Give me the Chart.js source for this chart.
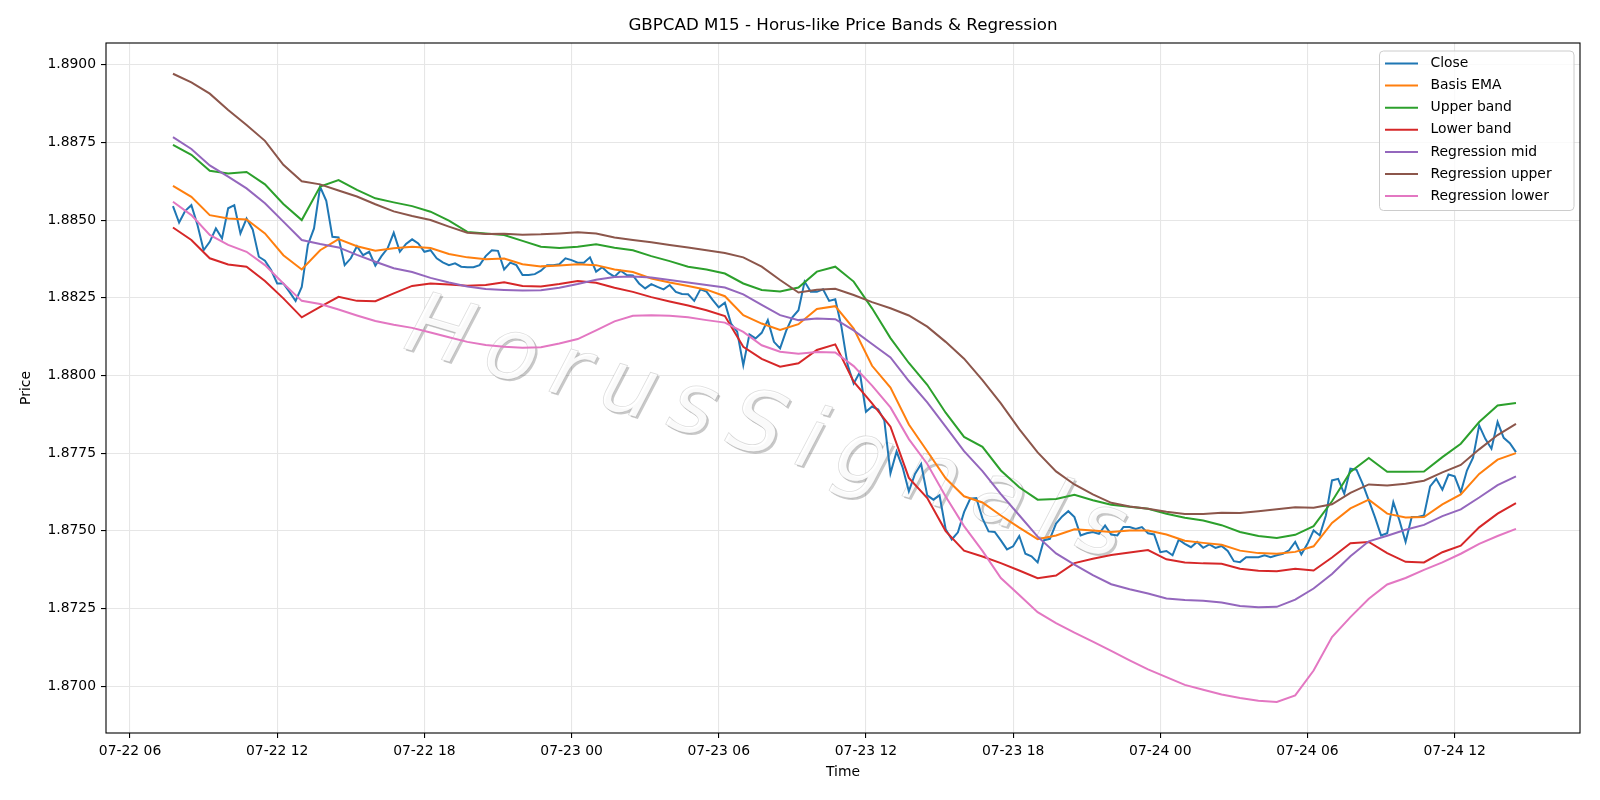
<!DOCTYPE html>
<html>
<head>
<meta charset="utf-8">
<title>GBPCAD M15 - Horus-like Price Bands & Regression</title>
<script src="https://cdn.jsdelivr.net/npm/chart.js"></script>
<style>
  html, body { margin: 0; padding: 0; background: #fff; }
  #wrap { width: 1600px; height: 800px; }
</style>
</head>
<body>
<div id="wrap"><canvas id="chart" width="1600" height="800"></canvas></div>
<script>
// time is counted in hours from 07-22 00:00
const closeStart = 7.75;   // 07-22 07:45, one bar every 15 min
const closeStep = 0.25;
const bandStart = 7.75;    // bands read every 45 min
const bandStep = 0.75;

const tickHours = [6, 12, 18, 24, 30, 36, 42, 48, 54, 60];
const tickLabels = ['07-22 06', '07-22 12', '07-22 18', '07-23 00', '07-23 06',
                    '07-23 12', '07-23 18', '07-24 00', '07-24 06', '07-24 12'];
const priceTicks = [1.8700, 1.8725, 1.8750, 1.8775, 1.8800, 1.8825, 1.8850, 1.8875, 1.8900];

const closeValues = [
  1.88545, 1.88492, 1.88530, 1.88548, 1.88484, 1.88403, 1.88430, 1.88473, 1.88441, 1.88538,
  1.88548, 1.88457, 1.88505, 1.88470, 1.88382, 1.88369, 1.88339, 1.88296, 1.88296, 1.88269,
  1.88240, 1.88285, 1.88420, 1.88473, 1.88607, 1.88562, 1.88446, 1.88444, 1.88355, 1.88377,
  1.88416, 1.88387, 1.88398, 1.88353, 1.88384, 1.88409, 1.88459, 1.88398, 1.88423, 1.88438,
  1.88425, 1.88398, 1.88403, 1.88377, 1.88364, 1.88355, 1.88361, 1.88350, 1.88348, 1.88348,
  1.88355, 1.88384, 1.88403, 1.88401, 1.88341, 1.88363, 1.88355, 1.88323, 1.88323, 1.88326,
  1.88337, 1.88355, 1.88355, 1.88358, 1.88377, 1.88371, 1.88363, 1.88363, 1.88380, 1.88334,
  1.88348, 1.88330, 1.88318, 1.88337, 1.88323, 1.88322, 1.88296, 1.88280, 1.88294, 1.88285,
  1.88277, 1.88291, 1.88269, 1.88262, 1.88261, 1.88240, 1.88277, 1.88270, 1.88243, 1.88219,
  1.88234, 1.88167, 1.88141, 1.88033, 1.88132, 1.88119, 1.88137, 1.88178, 1.88108, 1.88087,
  1.88144, 1.88187, 1.88210, 1.88302, 1.88269, 1.88269, 1.88277, 1.88240, 1.88245, 1.88157,
  1.88035, 1.87974, 1.88010, 1.87883, 1.87900, 1.87890, 1.87855, 1.87685, 1.87755, 1.87703,
  1.87627, 1.87683, 1.87715, 1.87614, 1.87600, 1.87614, 1.87505, 1.87472, 1.87495, 1.87560,
  1.87603, 1.87605, 1.87540, 1.87498, 1.87496, 1.87469, 1.87440, 1.87450, 1.87483, 1.87426,
  1.87418, 1.87398, 1.87469, 1.87474, 1.87523, 1.87546, 1.87563, 1.87544, 1.87485, 1.87492,
  1.87496, 1.87490, 1.87517, 1.87488, 1.87485, 1.87512, 1.87512, 1.87506, 1.87512, 1.87492,
  1.87488, 1.87431, 1.87435, 1.87421, 1.87471, 1.87458, 1.87447, 1.87464, 1.87445, 1.87456,
  1.87445, 1.87451, 1.87435, 1.87402, 1.87399, 1.87415, 1.87415, 1.87415, 1.87421, 1.87415,
  1.87421, 1.87426, 1.87437, 1.87464, 1.87424, 1.87458, 1.87501, 1.87485, 1.87549, 1.87662,
  1.87667, 1.87619, 1.87700, 1.87696, 1.87651, 1.87598, 1.87544, 1.87485, 1.87492, 1.87592,
  1.87533, 1.87464, 1.87544, 1.87544, 1.87549, 1.87643, 1.87667, 1.87632, 1.87681, 1.87675,
  1.87624, 1.87694, 1.87735, 1.87839, 1.87796, 1.87764, 1.87850, 1.87799, 1.87782, 1.87753
];

const basisEma = [
  1.88610, 1.88575, 1.88516, 1.88505, 1.88502, 1.88457, 1.88387, 1.88341, 1.88403, 1.88439,
  1.88416, 1.88401, 1.88409, 1.88414, 1.88410, 1.88391, 1.88380, 1.88374, 1.88376, 1.88358,
  1.88351, 1.88354, 1.88358, 1.88355, 1.88341, 1.88333, 1.88312, 1.88299, 1.88288, 1.88276,
  1.88255, 1.88194, 1.88167, 1.88146, 1.88165, 1.88214, 1.88223, 1.88151, 1.88031, 1.87961,
  1.87842, 1.87756, 1.87669, 1.87611, 1.87591, 1.87549, 1.87510, 1.87473, 1.87485, 1.87505,
  1.87501, 1.87496, 1.87501, 1.87501, 1.87488, 1.87468, 1.87461, 1.87455, 1.87436, 1.87428,
  1.87426, 1.87432, 1.87450, 1.87525, 1.87572, 1.87600, 1.87555, 1.87543, 1.87544, 1.87585,
  1.87617, 1.87683, 1.87729, 1.87750
];

const upperBand = [
  1.88742, 1.88710, 1.88659, 1.88650, 1.88655, 1.88615, 1.88552, 1.88500, 1.88608, 1.88629,
  1.88597, 1.88570, 1.88557, 1.88545, 1.88527, 1.88498, 1.88462, 1.88457, 1.88452, 1.88433,
  1.88414, 1.88410, 1.88414, 1.88422, 1.88411, 1.88403, 1.88384, 1.88368, 1.88350, 1.88341,
  1.88328, 1.88296, 1.88275, 1.88270, 1.88283, 1.88334, 1.88350, 1.88302, 1.88216, 1.88120,
  1.88040, 1.87970, 1.87880, 1.87802, 1.87770, 1.87694, 1.87640, 1.87600, 1.87602, 1.87616,
  1.87598, 1.87584, 1.87577, 1.87571, 1.87555, 1.87542, 1.87533, 1.87518, 1.87496, 1.87483,
  1.87477, 1.87487, 1.87515, 1.87595, 1.87689, 1.87734, 1.87690, 1.87690, 1.87691, 1.87737,
  1.87780, 1.87850, 1.87903, 1.87911
];

const lowerBand = [
  1.88476, 1.88436, 1.88377, 1.88357, 1.88350, 1.88304, 1.88248, 1.88187, 1.88221, 1.88253,
  1.88240, 1.88239, 1.88264, 1.88288, 1.88296, 1.88293, 1.88289, 1.88291, 1.88300, 1.88288,
  1.88286, 1.88294, 1.88304, 1.88298, 1.88282, 1.88269, 1.88252, 1.88238, 1.88225, 1.88210,
  1.88191, 1.88092, 1.88053, 1.88028, 1.88039, 1.88082, 1.88100, 1.87980, 1.87910, 1.87835,
  1.87670, 1.87605, 1.87499, 1.87436, 1.87417, 1.87396, 1.87372, 1.87347, 1.87356, 1.87396,
  1.87410, 1.87422, 1.87430, 1.87438, 1.87408, 1.87398, 1.87395, 1.87394, 1.87378, 1.87371,
  1.87370, 1.87378, 1.87372, 1.87414, 1.87460, 1.87464, 1.87428, 1.87400, 1.87398, 1.87431,
  1.87452, 1.87511, 1.87555, 1.87589
];

const regMid = [
  1.88767, 1.88729, 1.88676, 1.88640, 1.88602, 1.88554, 1.88495, 1.88436, 1.88423, 1.88412,
  1.88388, 1.88366, 1.88345, 1.88333, 1.88314, 1.88299, 1.88286, 1.88278, 1.88275, 1.88273,
  1.88274, 1.88282, 1.88294, 1.88308, 1.88317, 1.88318, 1.88315, 1.88307, 1.88299, 1.88291,
  1.88283, 1.88261, 1.88227, 1.88194, 1.88178, 1.88183, 1.88181, 1.88145, 1.88101, 1.88058,
  1.87982, 1.87913, 1.87835, 1.87756, 1.87692, 1.87618, 1.87550, 1.87481, 1.87427, 1.87391,
  1.87357, 1.87328, 1.87312, 1.87298, 1.87282, 1.87277, 1.87275, 1.87269, 1.87258, 1.87254,
  1.87255, 1.87278, 1.87314, 1.87361, 1.87418, 1.87466, 1.87484, 1.87503, 1.87519, 1.87547,
  1.87569, 1.87607, 1.87647, 1.87675
];

const regUpper = [
  1.88971, 1.88943, 1.88907, 1.88854, 1.88806, 1.88755, 1.88678, 1.88625, 1.88615, 1.88595,
  1.88576, 1.88551, 1.88528, 1.88513, 1.88500, 1.88479, 1.88459, 1.88455, 1.88456, 1.88453,
  1.88454, 1.88457, 1.88461, 1.88457, 1.88444, 1.88436, 1.88429, 1.88420, 1.88412, 1.88403,
  1.88394, 1.88380, 1.88350, 1.88307, 1.88267, 1.88276, 1.88279, 1.88259, 1.88236, 1.88216,
  1.88193, 1.88157, 1.88108, 1.88054, 1.87985, 1.87910, 1.87827, 1.87752, 1.87691, 1.87649,
  1.87617, 1.87590, 1.87578, 1.87571, 1.87561, 1.87554, 1.87554, 1.87558, 1.87557, 1.87563,
  1.87569, 1.87576, 1.87574, 1.87585, 1.87622, 1.87649, 1.87646, 1.87651, 1.87661, 1.87688,
  1.87712, 1.87762, 1.87808, 1.87844
];

const regLower = [
  1.88559, 1.88516, 1.88452, 1.88420, 1.88398, 1.88355, 1.88296, 1.88240, 1.88230, 1.88212,
  1.88193, 1.88175, 1.88163, 1.88153, 1.88138, 1.88123, 1.88108, 1.88098, 1.88092, 1.88089,
  1.88091, 1.88103, 1.88117, 1.88145, 1.88174, 1.88192, 1.88194, 1.88192, 1.88187, 1.88178,
  1.88170, 1.88140, 1.88097, 1.88076, 1.88070, 1.88075, 1.88074, 1.88030, 1.87967, 1.87897,
  1.87795, 1.87715, 1.87610, 1.87515, 1.87435, 1.87348, 1.87293, 1.87238, 1.87203, 1.87172,
  1.87143, 1.87113, 1.87083, 1.87054, 1.87029, 1.87004, 1.86988, 1.86973, 1.86962, 1.86953,
  1.86949, 1.86970, 1.87050, 1.87158, 1.87222, 1.87281, 1.87327, 1.87348, 1.87374, 1.87398,
  1.87426, 1.87458, 1.87483, 1.87506
];

const seriesNames = ['Close', 'Basis EMA', 'Upper band', 'Lower band',
                     'Regression mid', 'Regression upper', 'Regression lower'];
const seriesColors = ['#1f77b4', '#ff7f0e', '#2ca02c', '#d62728', '#9467bd', '#8c564b', '#e377c2'];

const titleText = 'GBPCAD M15 - Horus-like Price Bands & Regression';
const watermark = 'HorusSignals';
const fontFamily = '"DejaVu Sans", sans-serif';

function toPoints(values, start, step) {
    return values.map((v, i) => ({ x: start + i * step, y: v }));
}

const seriesData = [
    toPoints(closeValues, closeStart, closeStep),
    toPoints(basisEma, bandStart, bandStep),
    toPoints(upperBand, bandStart, bandStep),
    toPoints(lowerBand, bandStart, bandStep),
    toPoints(regMid, bandStart, bandStep),
    toPoints(regUpper, bandStart, bandStep),
    toPoints(regLower, bandStart, bandStep)
];

const datasets = seriesNames.map((name, i) => ({
    label: name,
    data: seriesData[i],
    borderColor: seriesColors[i],
    backgroundColor: seriesColors[i],
    borderWidth: 2,
    pointRadius: 0,
    tension: 0,
    fill: false,
    order: seriesNames.length - i   // later series drawn on top, like matplotlib
}));

// spaced-out italic watermark, drawn letter by letter
function drawWatermark(ctx) {
    ctx.font = 'italic 86px ' + fontFamily;
    const chars = watermark.split('');
    const widths = chars.map(c => ctx.measureText(c).width);
    const inked = widths.reduce((s, w) => s + w, 0);
    const gap = (745 - inked) / (chars.length - 1);
    let x = -745 / 2;
    ctx.textAlign = 'left';
    ctx.textBaseline = 'middle';
    chars.forEach((c, i) => {
        ctx.shadowColor = 'rgba(0, 0, 0, 0.24)';
        ctx.shadowOffsetX = 2;
        ctx.shadowOffsetY = 2;
        ctx.shadowBlur = 0.5;
        ctx.fillStyle = 'rgba(255, 255, 255, 0.9)';
        ctx.fillText(c, x, 0);
        ctx.shadowColor = 'transparent';
        ctx.lineWidth = 0.8;
        ctx.strokeStyle = 'rgba(0, 0, 0, 0.14)';
        ctx.strokeText(c, x, 0);
        x += widths[i] + gap;
    });
}

const decorations = {
    id: 'decorations',
    beforeDatasetsDraw(chart) {
        const { ctx, chartArea: a } = chart;
        ctx.save();
        ctx.beginPath();
        ctx.rect(a.left, a.top, a.right - a.left, a.bottom - a.top);
        ctx.clip();
        ctx.translate(765, 432);
        ctx.rotate(16.5 * Math.PI / 180);
        drawWatermark(ctx);
        ctx.restore();
    },
    afterDraw(chart) {
        const { ctx, chartArea: a } = chart;
        ctx.save();
        // axes frame
        ctx.strokeStyle = '#000';
        ctx.lineWidth = 1.1;
        ctx.strokeRect(a.left, a.top, a.right - a.left, a.bottom - a.top);

        ctx.fillStyle = '#000';
        ctx.textAlign = 'center';
        ctx.textBaseline = 'middle';
        ctx.font = '16.7px ' + fontFamily;
        ctx.fillText(titleText, (a.left + a.right) / 2, 26);

        ctx.font = '13.9px ' + fontFamily;
        ctx.fillText('Time', (a.left + a.right) / 2, 772);
        ctx.save();
        ctx.translate(26, (a.top + a.bottom) / 2);
        ctx.rotate(-Math.PI / 2);
        ctx.fillText('Price', 0, 0);
        ctx.restore();

        // legend box, upper right
        const bx = 1379.5, by = 51, bw = 194.5, bh = 159.5, r = 4;
        ctx.beginPath();
        ctx.moveTo(bx + r, by);
        ctx.arcTo(bx + bw, by, bx + bw, by + bh, r);
        ctx.arcTo(bx + bw, by + bh, bx, by + bh, r);
        ctx.arcTo(bx, by + bh, bx, by, r);
        ctx.arcTo(bx, by, bx + bw, by, r);
        ctx.closePath();
        ctx.fillStyle = 'rgba(255, 255, 255, 0.8)';
        ctx.fill();
        ctx.strokeStyle = '#cccccc';
        ctx.lineWidth = 1;
        ctx.stroke();

        ctx.textAlign = 'left';
        seriesNames.forEach((name, i) => {
            const y = 63.5 + i * 22.1;
            ctx.strokeStyle = seriesColors[i];
            ctx.lineWidth = 2;
            ctx.beginPath();
            ctx.moveTo(1385, y);
            ctx.lineTo(1418, y);
            ctx.stroke();
            ctx.fillStyle = '#000';
            ctx.fillText(name, 1430.5, y);
        });
        ctx.restore();
    }
};

Chart.defaults.font.family = fontFamily;

new Chart(document.getElementById('chart'), {
    type: 'line',
    data: { datasets: datasets },
    options: {
        responsive: false,
        devicePixelRatio: 1,
        animation: false,
        layout: { padding: { top: 43, right: 20, bottom: 0, left: 0 } },
        plugins: {
            legend: { display: false },
            title: { display: false },
            tooltip: { enabled: false }
        },
        scales: {
            x: {
                type: 'linear',
                min: 5.02,
                max: 65.11,
                afterBuildTicks: (scale) => { scale.ticks = tickHours.map(v => ({ value: v })); },
                afterFit: (scale) => { scale.height = 67; },
                ticks: {
                    callback: (value) => tickLabels[tickHours.indexOf(value)],
                    color: '#000',
                    font: { size: 13.9 },
                    maxRotation: 0,
                    autoSkip: false,
                    padding: 5
                },
                grid: { color: '#e6e6e6', lineWidth: 1.1, tickLength: 5, tickColor: '#000', tickWidth: 1.1 },
                border: { display: false }
            },
            y: {
                type: 'linear',
                min: 1.86849,
                max: 1.89070,
                afterBuildTicks: (scale) => { scale.ticks = priceTicks.map(v => ({ value: v })); },
                afterFit: (scale) => { scale.width = 106; },
                ticks: {
                    callback: (value) => value.toFixed(4),
                    color: '#000',
                    font: { size: 13.9 },
                    padding: 5
                },
                grid: { color: '#e6e6e6', lineWidth: 1.1, tickLength: 5, tickColor: '#000', tickWidth: 1.1 },
                border: { display: false }
            }
        }
    },
    plugins: [decorations]
});
</script>
</body>
</html>
